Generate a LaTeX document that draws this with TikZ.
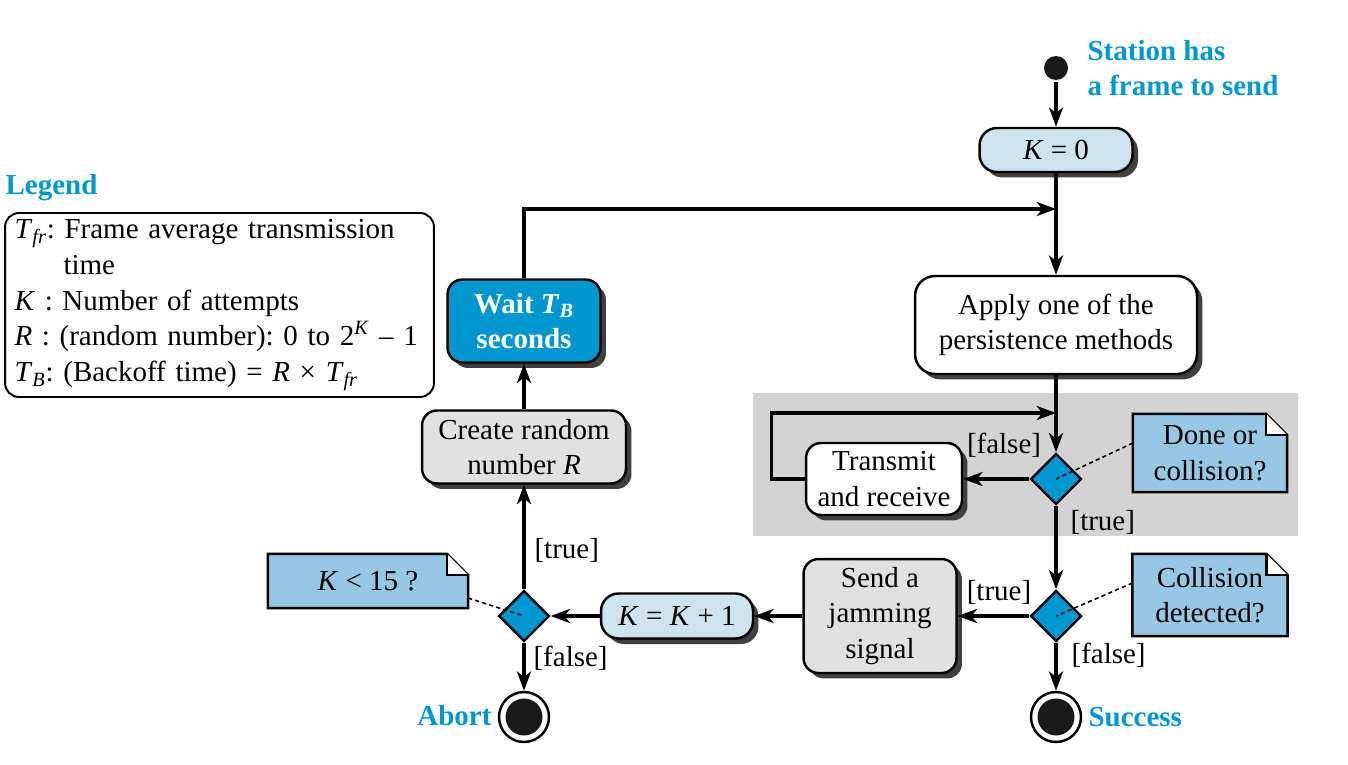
\documentclass[tikz,border=0pt]{standalone}
\usepackage{fontspec}
\setmainfont{Liberation Serif}
\usepackage{tikz}
\usetikzlibrary{arrows.meta,shapes.geometric,shadows,backgrounds}
\definecolor{ttblue}{RGB}{0,150,208}
\definecolor{paleblue}{RGB}{205,228,239}
\definecolor{noteblue}{RGB}{150,200,228}
\definecolor{boxgray}{RGB}{225,225,225}
\definecolor{areagray}{RGB}{211,211,211}
\newcommand{\dogear}[1]{%
  \filldraw[fill=noteblue, line width=1.4pt] (#1.south west) -- (#1.north west)
    -- ([xshift=-0.42cm]#1.north east) -- ([yshift=-0.42cm]#1.north east) -- (#1.south east) -- cycle;
  \filldraw[fill=white, line width=1.4pt] ([xshift=-0.42cm]#1.north east)
    -- ([xshift=-0.42cm,yshift=-0.42cm]#1.north east) -- ([yshift=-0.42cm]#1.north east);}
\tikzset{
  act/.style={draw, line width=1.4pt, rounded corners=0.3cm, align=center, inner sep=0pt,
    drop shadow={shadow xshift=0.11cm, shadow yshift=-0.11cm, fill=black!75, opacity=1}},
  dec/.style={diamond, draw, line width=1.4pt, fill=ttblue, minimum size=1.02cm, inner sep=0pt},
  note/.style={align=center, inner sep=0pt},
  lbl/.style={inner sep=0pt},
  hot/.style={font=\fontsize{16.5}{20.3}\selectfont\bfseries, text=ttblue, inner sep=0pt, align=left},
  start/.style={circle, fill=black!90, minimum size=0.48cm, inner sep=0pt},
  stop/.style={circle, draw, line width=1.4pt, minimum size=1.0cm, inner sep=0pt,
    path picture={\fill[black!90] (path picture bounding box.center) circle (0.37cm);}},
  >={Stealth[length=11pt,width=8pt,inset=3.2pt]}
}

\begin{document}
\frenchspacing
\begin{tikzpicture}[x=0.02cm, y=-0.02cm, line width=1.8pt,
    every node/.append style={font=\fontsize{16.5}{20.3}\selectfont}]
     \useasboundingbox (0,0) rectangle (1348,764);
     % right column
     \node [start] (ST) at (1056, 68) {};
     \node [hot, anchor=west] (SH) at (1086, 68) {Station has\\a frame to send};
     \node [act, fill=paleblue, rounded corners=0.35cm, minimum width=3.06cm, minimum height=0.88cm] (K0) at (1056, 150) {\textit{K} = 0};
     \node [act, fill=white, rounded corners=0.4cm, minimum width=5.64cm, minimum height=1.96cm] (AP) at (1056, 325) {Apply one of the\\persistence methods};
     \node [act, fill=white, minimum width=3.12cm, minimum height=1.44cm] (TR) at (884, 479) {Transmit\\and receive};
     \node [dec] (D1) at (1056, 479) {};
     \node [note, minimum width=3.02cm, minimum height=1.5cm] (N1) at (1210, 453) {Done or\\collision?};
     \node [dec] (D2) at (1056, 616) {};
     \node [note, minimum width=3.04cm, minimum height=1.58cm] (N2) at (1210, 595) {Collision\\detected?};
     \node [act, fill=boxgray, minimum width=3.06cm, minimum height=2.28cm] (SJ) at (880, 616) {Send a\\jamming\\signal};
     \node [stop] (SU) at (1056, 717) {};
     \node [hot, anchor=west] (SL) at (1087, 717) {Success};
     % left column
     \node [act, fill=paleblue, rounded corners=0.35cm, minimum width=3.04cm, minimum height=0.9cm] (KI) at (677, 616) {\textit{K} = \textit{K} + 1};
     \node [dec] (D3) at (524, 616) {};
     \node [note, minimum width=3.94cm, minimum height=1.02cm] (N3) at (368, 581) {\textit{K} < 15 ?};
     \node [stop] (AB) at (524, 717) {};
     \node [hot, anchor=east] (AL) at (493, 716) {Abort};
     \node [act, fill=boxgray, minimum width=4.08cm, minimum height=1.46cm] (CR) at (524, 447) {Create random\\number \textit{R}};
     \node [act, fill=ttblue, text=white, font=\fontsize{16.5}{20.3}\selectfont\bfseries, minimum width=3.06cm, minimum height=1.66cm] (WT) at (524, 321) {Wait \textit{T}\textsubscript{\textit{B}}\\seconds};
     % legend
     \node [hot, anchor=west] (LT) at (4, 188) {Legend};
     \node [draw, line width=1.1pt, rounded corners=0.28cm, align=left, text width=8.2cm, inner xsep=0.19cm, inner ysep=0pt, minimum height=3.68cm] (LG) at (219.5, 305)
       {\textit{T}\textsubscript{\textit{fr}}: Frame average transmission\\
        \hspace*{0.98cm}time\\
        \textit{K} : Number of attempts\\
        \textit{R} : (random number): 0 to 2\textsuperscript{\textit{K}} – 1\\
        \textit{T}\textsubscript{\textit{B}}: (Backoff time) = \textit{R} × \textit{T}\textsubscript{\textit{fr}}};
     % branch labels
     \node [lbl] (F1) at (1004, 445) {[false]};
     \node [lbl, anchor=west] (T1) at (1069, 522) {[true]};
     \node [lbl] (T2) at (999, 592) {[true]};
     \node [lbl, anchor=west] (F2) at (1070, 655) {[false]};
     \node [lbl, anchor=west] (T3) at (533, 550) {[true]};
     \node [lbl, anchor=west] (F3) at (532, 658) {[false]};
     \coordinate (J1) at (1056, 209);
     \coordinate (J2) at (1056, 413);
     % shaded area and notes
     \begin{scope}[on background layer]
       \fill [areagray] (753, 393) rectangle (1298, 536);
       \dogear{N1}
       \dogear{N2}
       \dogear{N3}
     \end{scope}
     % connectors
     \draw [->] (ST) -- (K0);
     \draw [->] (K0) -- (AP);
     \draw [->] (WT.north) |- (J1);
     \draw [->] (AP) -- (D1);
     \draw [->] (D1) -- (TR);
     \draw [->] (TR.west) -- ++(-33, 0) |- (J2);
     \draw [->] (D1) -- (D2);
     \draw [->] (D2) -- (SJ);
     \draw [->] (D2) -- (SU);
     \draw [->] (SJ) -- (KI);
     \draw [->] (KI) -- (D3);
     \draw [->] (D3) -- (AB);
     \draw [->] (D3) -- (CR);
     \draw [->] (CR) -- (WT);
     \draw [line width=0.9pt, dash pattern=on 2.4pt off 1.8pt] ([yshift=0.2cm]N1.west) -- (D1.center);
     \draw [line width=0.9pt, dash pattern=on 2.4pt off 1.8pt] ([yshift=0.24cm]N2.west) -- (D2.center);
     \draw [line width=0.9pt, dash pattern=on 2.4pt off 1.8pt] ([yshift=-0.34cm]N3.east) -- (D3.center);
    \end{tikzpicture}
\end{document}
